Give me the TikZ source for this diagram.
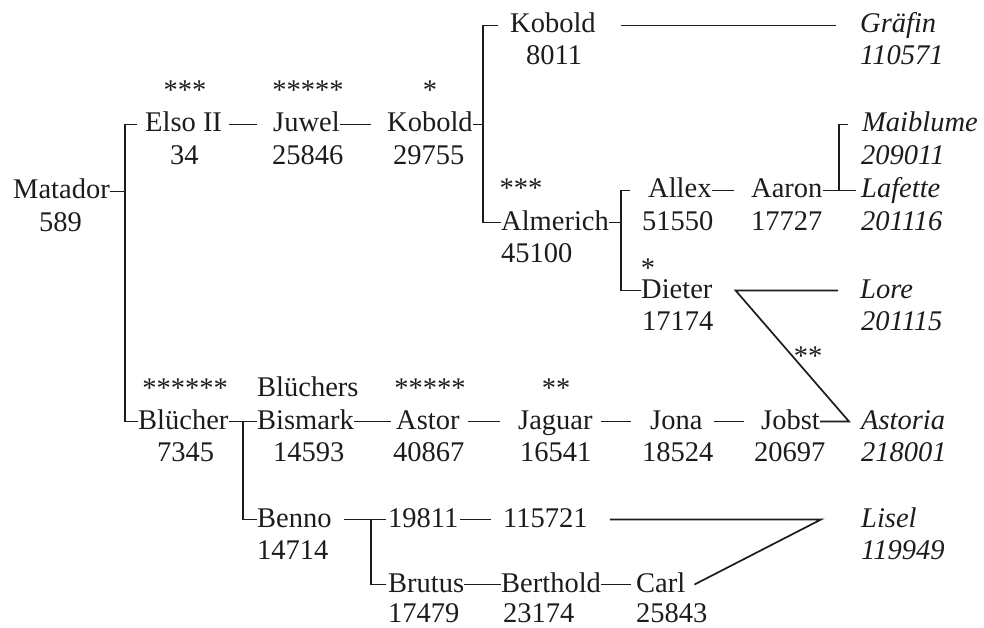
\documentclass[tikz,border=0pt]{standalone}
\usepackage{fontspec}
\setmainfont{Liberation Serif}
\definecolor{ink}{HTML}{1C1C1C}
\begin{document}
\begin{tikzpicture}[x=1pt,y=-1pt,
  font=\fontsize{28.5}{33}\selectfont,
  every node/.style={inner sep=0pt, text=ink},
  nm/.style={anchor=base west, text height=15.5pt, text depth=0.5pt},
  num/.style={anchor=base west},
  mare/.style={nm, font=\fontsize{28.5}{33}\selectfont\itshape},
  mnum/.style={num, font=\fontsize{28.5}{33}\selectfont\itshape},
  star/.style={anchor=base},
  link/.style={draw=ink, line width=1.7pt}]
\path[use as bounding box] (0,0) rectangle (984,628);

% --- sire line through Elso II
\node[nm]  (mat)    at (13,199)  {Matador};
\node[num] (matn)   at (39,232)  {589};
\node[star] (elsos) at (185,100) {***};
\node[nm]  (elso)   at (145,132) {Elso II};
\node[num] (elson)  at (170,165) {34};
\node[star] (juws)  at (308,100) {*****};
\node[nm]  (juwel)  at (273,132) {Juwel};
\node[num] (juweln) at (272,165) {25846};
\node[star] (kobs)  at (430,100) {*};
\node[nm]  (kob)    at (387,132) {Kobold};
\node[num] (kobn)   at (393,165) {29755};
\node[nm]  (kobt)   at (510,33)  {Kobold};
\node[num] (kobtn)  at (526,65)  {8011};
\node[mare] (graf)  at (860,33)  {Gräfin};
\node[mnum] (grafn) at (860,65)  {110571};
\node[star] (alms)  at (521,198) {***};
\node[nm]  (alm)    at (501,230) {Almerich};
\node[num] (almn)   at (501,262) {45100};
\node[nm]  (allex)  at (648,198) {Allex};
\node[num] (allexn) at (642,230) {51550};
\node[nm]  (aaron)  at (751,198) {Aaron};
\node[num] (aaronn) at (751,230) {17727};
\node[mare] (maib)  at (862,132) {Maiblume};
\node[mnum] (maibn) at (861,165) {209011};
\node[mare] (laf)   at (861,198) {Lafette};
\node[mnum] (lafn)  at (861,230) {201116};
\node[star] (diets) at (648,277) {*};
\node[nm]  (diet)   at (641,298) {Dieter};
\node[num] (dietn)  at (642,330) {17174};
\node[mare] (lore)  at (860,298) {Lore};
\node[mnum] (loren) at (861,330) {201115};

% --- sire line through Blücher
\node[star] (bls)   at (185,397) {******};
\node[nm]  (bl)     at (138,429) {Blücher};
\node[num] (bln)    at (157,461) {7345};
\node[anchor=base west] (bism0) at (257,396) {Blüchers};
\node[nm]  (bism)   at (257,429) {Bismark};
\node[num] (bismn)  at (273,461) {14593};
\node[star] (asts)  at (430,397) {*****};
\node[nm]  (astor)  at (396,429) {Astor};
\node[num] (astorn) at (393,461) {40867};
\node[star] (jags)  at (556,397) {**};
\node[nm]  (jag)    at (518,429) {Jaguar};
\node[num] (jagn)   at (520,461) {16541};
\node[nm]  (jona)   at (650,429) {Jona};
\node[num] (jonan)  at (642,461) {18524};
\node[nm]  (jobst)  at (761,429) {Jobst};
\node[num] (jobstn) at (754,461) {20697};
\node[mare] (ast)   at (861,429) {Astoria};
\node[mnum] (astn)  at (861,461) {218001};
\node[nm]  (benno)  at (257,527) {Benno};
\node[num] (bennon) at (257,559) {14714};
\node[nm]  (n19811) at (388,527) {19811};
\node[nm]  (n115721) at (503,527) {115721};
\node[mare] (lisel) at (861,527) {Lisel};
\node[mnum] (liseln) at (861,559) {119949};
\node[nm]  (brutus) at (388,592) {Brutus};
\node[num] (brutusn) at (388,622) {17479};
\node[nm]  (berth)  at (501,592) {Berthold};
\node[num] (berthn) at (503,622) {23174};
\node[nm]  (carl)   at (636,592) {Carl};
\node[num] (carln)  at (636,622) {25843};

% bracket columns
\coordinate (bm) at (125,0);
\coordinate (bk) at (483,0);
\coordinate (ba) at (621,0);
\coordinate (bq) at (839,0);
\coordinate (bb) at (243,0);
\coordinate (bn) at (371,0);

% Matador's offspring
\draw[link] (mat.east) -- (mat.east -| bm);
\draw[link] ([xshift=-8]elso.west) -- (elso.west -| bm) -- (bl.west -| bm) -- (bl.west);

% upper line
\draw[link] ([xshift=7]elso.east) -- ([xshift=-16]juwel.west);
\draw[link] (juwel.east) -- ([xshift=-16]kob.west);
\draw[link] (kob.east) -- (kob.east -| bk);
\draw[link] ([xshift=-12]kobt.west) -- (kobt.west -| bk) -- (alm.west -| bk) -- (alm.west);
\draw[link] ([xshift=25]kobt.east) -- ([xshift=-24]graf.west);
\draw[link] (alm.east) -- (alm.east -| ba);
\draw[link] ([xshift=-18]allex.west) -- (allex.west -| ba) -- (diet.west -| ba) -- (diet.west);
\draw[link] (allex.east) -- ([xshift=-17]aaron.west);
\draw[link] (aaron.east) -- (aaron.east -| bq);
\draw[link] ([xshift=-14]maib.west) -- (maib.west -| bq) -- (laf.west -| bq) -- ([xshift=-5]laf.west);
\draw[link] ([xshift=-22]lore.west) -- ([xshift=23]diet.east)
  -- ([xshift=-12]ast.west) -- (jobst.east);
\node[star] (diags) at (808,365) {**};

% lower line
\draw[link] (bl.east) -- (bism.west);
\draw[link] (bl.east -| bb) -- (benno.west -| bb) -- (benno.west);
\draw[link] (bism.east) -- ([xshift=-5]astor.west);
\draw[link] ([xshift=8]astor.east) -- ([xshift=-18]jag.west);
\draw[link] ([xshift=8]jag.east) -- ([xshift=-19]jona.west);
\draw[link] ([xshift=11]jona.east) -- ([xshift=-17]jobst.west);
\draw[link] ([xshift=12]benno.east) -- ([xshift=-2]n19811.west);
\draw[link] (n19811.west -| bn) -- (brutus.west -| bn) -- ([xshift=-2]brutus.west);
\draw[link] ([xshift=1]n19811.east) -- ([xshift=-12]n115721.west);
\draw[link] ([xshift=22]n115721.east) -- ([xshift=-40]lisel.west) -- ([xshift=9]carl.east);
\draw[link] (brutus.east) -- (berth.west);
\draw[link] (berth.east) -- ([xshift=-5]carl.west);
\end{tikzpicture}
\end{document}
